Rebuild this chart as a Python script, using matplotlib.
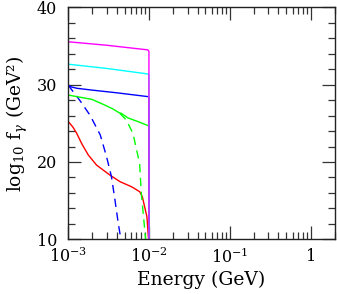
import numpy as np
import matplotlib
matplotlib.use("Agg")
import matplotlib.pyplot as plt
import matplotlib.ticker as ticker


# Data --------------------------------------------------------------------

# energies in GeV, log10 f_gamma in GeV^2
e_magenta = [1.0e-3, 3.0e-3, 9.7e-3, 1.0e-2, 1.0e-2]
f_magenta = [35.55, 35.1, 34.5, 34.3, 10.0]

e_cyan = [1.0e-3, 3.0e-3, 9.8e-3, 1.0e-2, 1.0e-2]
f_cyan = [32.65, 32.1, 31.38, 31.3, 10.0]

e_blue = [1.0e-3, 1.1e-3, 1.29e-3, 1.97e-3, 4.0e-3, 9.8e-3, 1.0e-2, 1.0e-2]
f_blue = [29.95, 29.7, 29.53, 29.3, 28.95, 28.45, 28.4, 10.0]

e_green = [1.0e-3, 1.97e-3, 2.85e-3, 3.6e-3, 4.3e-3, 4.55e-3, 5.5e-3,
           7.0e-3, 9.8e-3, 1.0e-2, 1.0e-2]
f_green = [28.66, 28.1, 27.36, 26.85, 26.35, 26.3, 25.7, 25.3, 24.7,
           24.6, 10.0]

e_blue_dash = [1.0e-3, 1.29e-3, 1.48e-3, 1.88e-3, 2.5e-3, 2.99e-3,
               3.44e-3, 3.8e-3, 4.17e-3, 4.5e-3]
f_blue_dash = [29.95, 28.45, 27.6, 26.0, 23.5, 20.7, 18.1, 15.1, 12.1, 10.0]

e_green_dash = [4.37e-3, 5.25e-3, 6.07e-3, 6.35e-3, 7.67e-3, 8.05e-3,
                8.65e-3, 9.1e-3]
f_green_dash = [26.3, 25.43, 24.1, 23.7, 19.8, 15.95, 12.5, 10.0]

e_red = [1.0e-3, 1.06e-3, 1.15e-3, 1.28e-3, 1.47e-3, 1.78e-3, 2.25e-3,
         3.3e-3, 4.4e-3, 6.1e-3, 7.7e-3, 8.3e-3, 8.85e-3, 9.45e-3,
         9.7e-3, 9.9e-3]
f_red = [25.25, 24.95, 24.5, 23.7, 22.4, 20.9, 19.6, 18.3, 17.45, 16.8,
         16.15, 15.5, 14.2, 12.9, 11.2, 10.0]

x_ticks = [1e-3, 1e-2, 1e-1, 1]
x_labels = [r"$10^{-3}$", r"$10^{-2}$", r"$10^{-1}$", "1"]
y_ticks = [10, 20, 30, 40]


# Plotting ----------------------------------------------------------------

plt.rcParams["font.family"] = "DejaVu Serif"
plt.rcParams["mathtext.fontset"] = "dejavuserif"
fsize = 11.5

fig = plt.figure(figsize=(3.37, 2.94), dpi=100)
ax = fig.add_axes([0.202, 0.186, 0.792, 0.789])

lw = 1.0
dash = (0, (6, 4))

ax.plot(e_red, f_red, color="#ff0000", lw=lw)
ax.plot(e_green_dash, f_green_dash, color="#00ff00", lw=lw, ls=dash)
ax.plot(e_blue_dash, f_blue_dash, color="#0000ff", lw=lw, ls=dash)
ax.plot(e_green, f_green, color="#00ff00", lw=lw)
ax.plot(e_blue, f_blue, color="#0000ff", lw=lw)
ax.plot(e_cyan, f_cyan, color="#00ffff", lw=lw)
ax.plot(e_magenta, f_magenta, color="#ff00ff", lw=lw)

ax.set_xscale("log")
ax.set_xlim(1e-3, 2.0)
ax.set_ylim(10, 40)

ax.set_xticks(x_ticks)
ax.set_xticklabels(x_labels, fontsize=fsize)
ax.xaxis.set_minor_locator(ticker.LogLocator(base=10, subs=np.arange(2, 10)))
ax.xaxis.set_minor_formatter(ticker.NullFormatter())

ax.set_yticks(y_ticks)
ax.set_yticklabels([str(v) for v in y_ticks], fontsize=fsize)
ax.yaxis.set_minor_locator(ticker.MultipleLocator(2))

ax.tick_params(which="both", direction="in", top=True, right=True,
               color="#333333", width=0.9)
ax.tick_params(which="major", length=9.5)
ax.tick_params(which="minor", length=5)
ax.tick_params(axis="x", which="major", pad=6)
ax.tick_params(axis="y", which="major", pad=8)

for s in ax.spines.values():
    s.set_linewidth(1.0)
    s.set_color("#222222")

ax.set_xlabel("Energy (GeV)", fontsize=13.5, labelpad=3)
ax.set_ylabel("log$_{10}$ f$_\\gamma$ (GeV\u00b2)", fontsize=13.5,
              labelpad=5)

fig.savefig("out.png", dpi=100)
plt.close()
